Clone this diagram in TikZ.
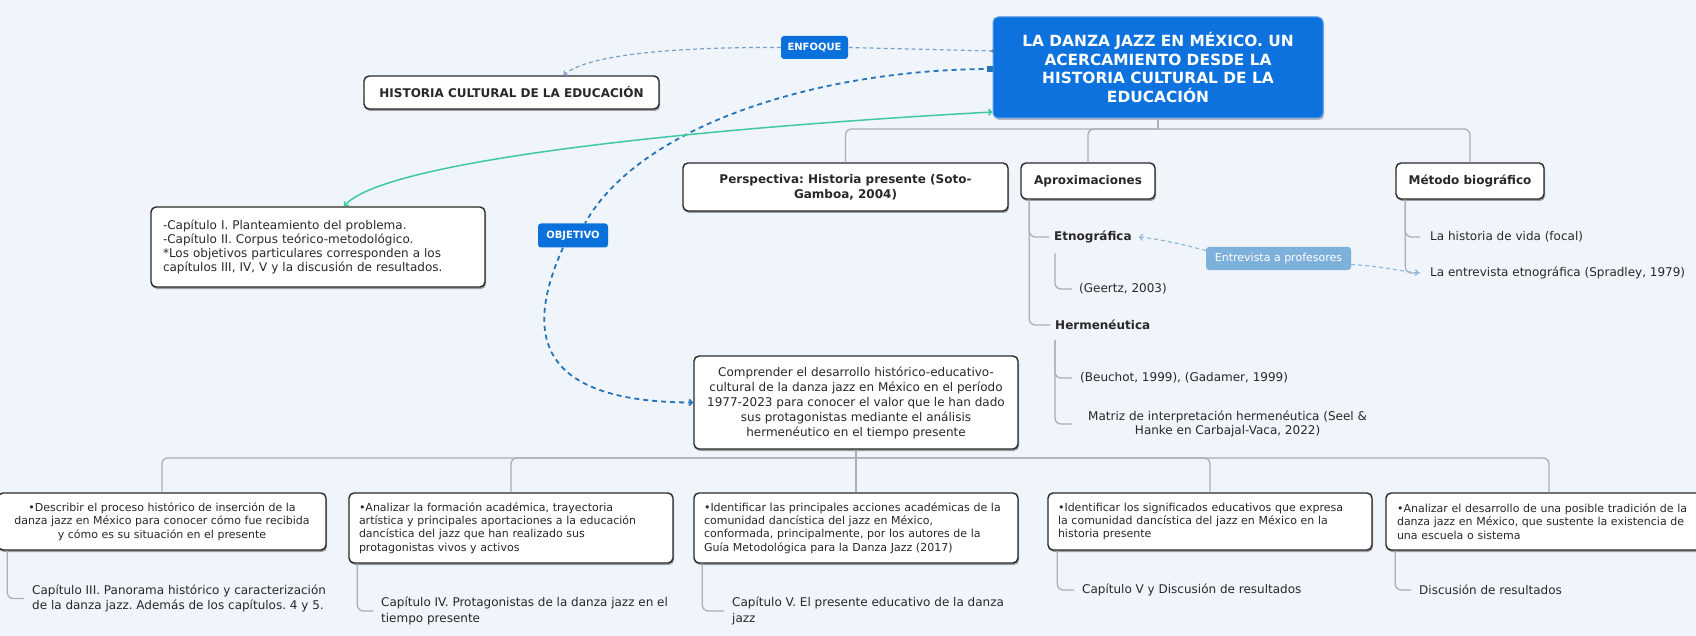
\documentclass[tikz,border=0pt]{standalone}
\usepackage{fontspec}
\setmainfont{DejaVu Sans}
\usetikzlibrary{arrows.meta,shadows}
\frenchspacing

\definecolor{paper}{RGB}{240,244,251}
\definecolor{mainblue}{RGB}{14,114,222}
\definecolor{tagblue}{RGB}{10,112,220}
\definecolor{softtag}{RGB}{126,176,220}
\definecolor{cardline}{RGB}{40,40,40}
\definecolor{branch}{RGB}{170,175,184}
\definecolor{relsoft}{RGB}{122,160,200}
\definecolor{relpale}{RGB}{140,186,226}
\definecolor{reldark}{RGB}{38,116,186}
\definecolor{relteal}{RGB}{64,200,162}
\definecolor{ink}{RGB}{40,40,40}

\newcommand\fsz[2]{\fontsize{#1pt}{#2pt}\selectfont}

\begin{document}
\begin{tikzpicture}[x=1pt,y=-1pt,
  card/.style={draw=cardline, line width=1.4pt, fill=white, rounded corners=5pt,
    drop shadow={shadow xshift=1pt,shadow yshift=-2pt,opacity=0.35,fill=black},
    inner sep=0pt, text=ink},
  mainbox/.style={draw=mainblue!70!white, line width=1pt, fill=mainblue, rounded corners=5pt,
    text=white, inner sep=0pt, align=center, font=\fsz{15.4}{18.4}\bfseries,
    drop shadow={shadow xshift=1pt,shadow yshift=-2pt,opacity=0.25,fill=black}},
  tagbox/.style={fill=tagblue, text=white, rounded corners=3pt, inner sep=0pt, font=\fsz{10}{12}\bfseries},
  softtagbox/.style={fill=softtag, text=white, rounded corners=3pt, inner sep=0pt, font=\fsz{11}{13}},
  topic/.style={card, font=\fsz{12}{15}\bfseries, align=center},
  leaf/.style={inner sep=0pt, anchor=west, text=ink, font=\fsz{12}{15.5}},
  leafbold/.style={inner sep=0pt, anchor=west, text=ink, font=\fsz{12}{15}\bfseries},
  goal/.style={card, font=\fsz{11}{13.3}, minimum width=324pt},
  goalleft/.style={goal, align=left, text width=304pt},
  conn/.style={draw=branch, line width=1.3pt, rounded corners=6pt},
  rellight/.style={draw=relsoft, line width=1.2pt, dash pattern=on 4pt off 3pt},
  relpaleline/.style={draw=relpale, line width=1.2pt, dash pattern=on 4pt off 3pt},
  reldashed/.style={draw=reldark, line width=1.8pt, dash pattern=on 5pt off 4pt},
  tip/.style={-{Straight Barb[length=3pt,width=6pt]}}
]
\useasboundingbox (0,0) rectangle (1696,636);
\clip (0,0) rectangle (1696,636);
\fill[paper] (0,0) rectangle (1696,636);

% ---------- central topic and its direct branches ----------
\node[mainbox, minimum width=330pt, minimum height=101pt] (main) at (1158,67.5)
  {LA DANZA JAZZ EN MÉXICO. UN\\ACERCAMIENTO DESDE LA\\HISTORIA CULTURAL DE LA\\EDUCACIÓN};

\node[topic, minimum width=295pt, minimum height=33pt] (hist) at (511.5,92.5)
  {HISTORIA CULTURAL DE LA EDUCACIÓN};
\node[tagbox, minimum width=67pt, minimum height=23pt] (enf) at (814.5,47.5) {ENFOQUE};
\node[tagbox, minimum width=70pt, minimum height=24pt] (obj) at (573,235.5) {OBJETIVO};

\node[card, font=\fsz{12}{13.8}, align=left, text width=310pt, minimum width=334pt, minimum height=80pt] (caps) at (318,247)
  {-Capítulo I. Planteamiento del problema.\\-Capítulo II. Corpus teórico-metodológico.\\{}*Los objetivos particulares corresponden a los\\capítulos III, IV, V y la discusión de resultados.};

\node[topic, minimum width=325pt, minimum height=48pt] (persp) at (845.5,187)
  {Perspectiva: Historia presente (Soto-\\Gamboa, 2004)};
\node[topic, minimum width=134pt, minimum height=36pt] (aprox) at (1088,181) {Aproximaciones};
\node[topic, minimum width=148pt, minimum height=36pt] (metodo) at (1470,181) {Método biográfico};

% approaches
\node[leafbold] (etno) at (1054,237) {Etnográfica};
\node[leaf] (geertz) at (1079,289) {(Geertz, 2003)};
\node[leafbold] (herme) at (1055,325) {Hermenéutica};
\node[leaf] (beuchot) at (1080,378) {(Beuchot, 1999), (Gadamer, 1999)};
\node[leaf, align=center, font=\fsz{12}{14}] (matriz) at (1088,424)
  {Matriz de interpretación hermenéutica (Seel \&\\Hanke en Carbajal-Vaca, 2022)};
\node[softtagbox, minimum width=145pt, minimum height=23pt] (entrev) at (1278.5,258.5) {Entrevista a profesores};

% biographical method
\node[leaf] (vida) at (1430,237) {La historia de vida (focal)};
\node[leaf] (spradley) at (1430,273) {La entrevista etnográfica (Spradley, 1979)};

% general objective
\node[card, font=\fsz{12}{15}, align=center, minimum width=324pt, minimum height=93pt] (compr) at (856,402.5)
  {Comprender el desarrollo histórico-educativo-\\cultural de la danza jazz en México en el período\\1977-2023 para conocer el valor que le han dado\\sus protagonistas mediante el análisis\\hermenéutico en el tiempo presente};

% particular objectives
\node[goal, align=center, minimum width=328pt, minimum height=57pt] (g1) at (162,521.5)
  {•Describir el proceso histórico de inserción de la\\danza jazz en México para conocer cómo fue recibida\\y cómo es su situación en el presente};
\node[goalleft, minimum height=70pt] (g2) at (511,528)
  {•Analizar la formación académica, trayectoria\\artística y principales aportaciones a la educación\\dancística del jazz que han realizado sus\\protagonistas vivos y activos};
\node[goalleft, minimum height=70pt] (g3) at (856,528)
  {•Identificar las principales acciones académicas de la\\comunidad dancística del jazz en México,\\conformada, principalmente, por los autores de la\\Guía Metodológica para la Danza Jazz (2017)};
\node[goalleft, minimum height=57pt] (g4) at (1210,521.5)
  {•Identificar los significados educativos que expresa\\la comunidad dancística del jazz en México en la\\historia presente};
\node[goalleft, minimum width=326pt, minimum height=57pt] (g5) at (1549,521.5)
  {•Analizar el desarrollo de una posible tradición de la\\danza jazz en México, que sustente la existencia de\\una escuela o sistema};

% chapters
\node[leaf, align=left] (c1) at (32,598.5)
  {Capítulo III. Panorama histórico y caracterización\\de la danza jazz. Además de los capítulos. 4 y 5.};
\node[leaf, align=left] (c2) at (381,611)
  {Capítulo IV. Protagonistas de la danza jazz en el\\tiempo presente};
\node[leaf, align=left] (c3) at (732,611)
  {Capítulo V. El presente educativo de la danza\\jazz};
\node[leaf] (c4) at (1082,590) {Capítulo V y Discusión de resultados};
\node[leaf] (c5) at (1419,590) {Discusión de resultados};

% ---------- tree connectors ----------
\coordinate (hubT) at (1158,129);
\draw[conn] (main.south) -- (hubT);
\draw[conn] (hubT) -| (persp.north);
\draw[conn] (hubT) -| (aprox.north);
\draw[conn] (hubT) -| (metodo.north);

\draw[conn] ([xshift=9pt]aprox.south west) |- ([xshift=-5pt]etno.west);
\draw[conn] ([xshift=9pt]aprox.south west) |- ([xshift=-5pt]herme.west);
\draw[conn] ([xshift=1pt,yshift=-10pt]etno.south west) |- ([xshift=-7pt]geertz.west);
\draw[conn] ([xshift=0pt,yshift=-10pt]herme.south west) |- ([xshift=-8pt]beuchot.west);
\draw[conn] ([xshift=0pt,yshift=-10pt]herme.south west) |- ([xshift=-16pt]matriz.west);

\draw[conn] ([xshift=10pt]metodo.south west) |- ([xshift=-10pt]vida.west);
\draw[conn] ([xshift=10pt]metodo.south west) |- ([xshift=-10pt]spradley.west);

\coordinate (hubB) at (856,458);
\draw[conn] (compr.south) -- (hubB);
\foreach \g in {g1,g2,g3,g4,g5} \draw[conn] (hubB) -| (\g.north);

\draw[conn] ([xshift=10pt]g1.south west) |- ([xshift=-8pt]c1.west);
\draw[conn] ([xshift=9pt]g2.south west) |- ([xshift=-8pt]c2.west);
\draw[conn] ([xshift=9pt]g3.south west) |- ([xshift=-8pt]c3.west);
\draw[conn] ([xshift=10pt]g4.south west) |- ([xshift=-8pt]c4.west);
\draw[conn] ([xshift=10pt]g5.south west) |- ([xshift=-8pt]c5.west);

% ---------- relationships ----------
% focus
\fill[relsoft!70!black] ([yshift=16.5pt]main.west) circle (1.6pt);
\draw[rellight] ([yshift=16.5pt]main.west) -- (enf.east);
\draw[rellight, tip] (enf.west) .. controls (695,47) and (590,52) .. ([xshift=52pt]hist.north);

% objective
\fill[reldark] ([xshift=-6pt,yshift=1.5pt]main.west) rectangle ([yshift=-4.5pt]main.west);
\draw[reldashed] ([yshift=-1.5pt]main.west) .. controls (820,69) and (640,125) .. ([xshift=12pt]obj.north);
\draw[reldashed, tip] ([xshift=-10pt]obj.south) .. controls (526,330) and (532,402) .. (compr.west);

% chapters of the thesis
\draw[relteal, line width=1.5pt, {Straight Barb[length=3pt,width=6pt]}-{Straight Barb[length=3pt,width=6pt]}]
  ([yshift=-44.5pt]main.west) .. controls (700,128) and (385,160) .. ([xshift=26pt]caps.north);

% interviews
\draw[relpaleline, tip] ([yshift=8pt]entrev.west) .. controls (1185,245) and (1165,240) .. ([xshift=7pt]etno.east);
\draw[relpaleline, tip] ([yshift=-6pt]entrev.east) .. controls (1380,266) and (1400,271) .. ([xshift=-11pt]spradley.west);
\end{tikzpicture}
\end{document}
